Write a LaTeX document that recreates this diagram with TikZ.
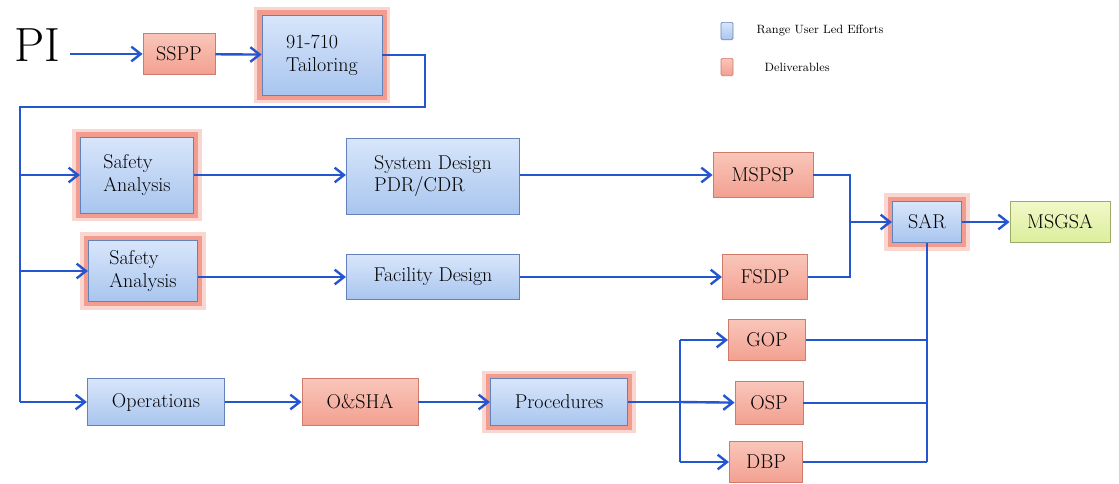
\documentclass[tikz,border=0pt]{standalone}
\usetikzlibrary{arrows.meta}

\definecolor{flowblue}{HTML}{2456D0}
\definecolor{boxblueT}{HTML}{D8E6FB}
\definecolor{boxblueB}{HTML}{A9C5EE}
\definecolor{edgeblue}{HTML}{6482BA}
\definecolor{boxredT}{HTML}{F9C6BA}
\definecolor{boxredB}{HTML}{F2A090}
\definecolor{edgered}{HTML}{CF7A6A}
\definecolor{glowred}{HTML}{F08B7B}
\definecolor{boxgreenT}{HTML}{F1F8C8}
\definecolor{boxgreenB}{HTML}{DCEE9C}
\definecolor{edgegreen}{HTML}{9AAB6A}

\tikzset{
  flow/.style={draw=flowblue, line width=1.8pt},
  arrow/.style={flow, -{Straight Barb[length=7pt,width=11pt,line width=1.8pt]}},
  base/.style={rectangle, inner sep=0pt, line width=0.6pt, align=center,
    font=\fontsize{15}{17}\selectfont},
  bluebox/.style={base, draw=edgeblue, top color=boxblueT, bottom color=boxblueB},
  redbox/.style={base, draw=edgered, top color=boxredT, bottom color=boxredB},
  greenbox/.style={base, draw=edgegreen, top color=boxgreenT, bottom color=boxgreenB},
  keybox/.style={bluebox,
    preaction={draw=glowred!35, line width=12pt, rounded corners=6pt},
    preaction={draw=glowred!85, line width=7pt, rounded corners=3pt}},
  legendbox/.style={rectangle, minimum width=9pt, minimum height=13pt, inner sep=0pt,
    rounded corners=1pt, line width=0.5pt},
  legendtext/.style={anchor=west, font=\fontsize{9}{10}\selectfont}
}

\begin{document}
\begin{tikzpicture}[x=0.75pt, y=-0.75pt]
    \useasboundingbox (0,0) rectangle (1119,483);

    % Top row
    \node[font=\fontsize{36}{38}\selectfont] (pi) at (37,45) {PI};
    \node[redbox, minimum width=54pt, minimum height=31pt] (sspp) at (179,54) {SSPP};
    \node[keybox, minimum width=90pt, minimum height=60pt, align=left] (tail) at (322,55) {91-710\\Tailoring};

    % Design branches
    \node[keybox, minimum width=85pt, minimum height=57pt, align=left] (sa1) at (137,175) {Safety\\Analysis};
    \node[bluebox, minimum width=130pt, minimum height=57pt, align=left] (sysd) at (433,176) {System Design\\PDR/CDR};
    \node[redbox, minimum width=75pt, minimum height=34pt] (mspsp) at (763,175) {MSPSP};

    \node[keybox, minimum width=82pt, minimum height=46pt, align=left] (sa2) at (143,271) {Safety\\Analysis};
    \node[bluebox, minimum width=130pt, minimum height=34pt] (facd) at (433,277) {Facility Design};
    \node[redbox, minimum width=64pt, minimum height=34pt] (fsdp) at (765,277) {FSDP};

    \node[keybox, minimum width=52pt, minimum height=31pt] (sar) at (927,222) {SAR};
    \node[greenbox, minimum width=75pt, minimum height=31pt] (msgsa) at (1060,222) {MSGSA};

    % Operations branch
    \node[bluebox, minimum width=103pt, minimum height=35pt] (ops) at (156,402) {Operations};
    \node[redbox, minimum width=87pt, minimum height=35pt] (osha) at (360,402) {O\&SHA};
    \node[keybox, minimum width=103pt, minimum height=35pt] (proc) at (559,402) {Procedures};

    \node[redbox, minimum width=58pt, minimum height=31pt] (gop) at (767,340) {GOP};
    \node[redbox, minimum width=51pt, minimum height=32pt] (osp) at (769,403) {OSP};
    \node[redbox, minimum width=55pt, minimum height=31pt] (dbp) at (766,462) {DBP};

    % Legend
    \node[legendbox, draw=edgeblue, top color=boxblueT, bottom color=boxblueB] (keyblue) at (727,31) {};
    \node[legendtext] at (752,31) {Range User Led Efforts};
    \node[legendbox, draw=edgered, top color=boxredT, bottom color=boxredB] (keyred) at (727,67) {};
    \node[legendtext] at (760,67) {Deliverables};

    \coordinate (pistart) at (70,54);
    \coordinate (turn) at (425,107);
    \coordinate (trunk) at (20,107);
    \coordinate (merge) at (850,222);
    \coordinate (split) at (680,402);

    % Connectors
    \draw[arrow] (pistart) -- (sspp);
    \draw[arrow] (sspp) -- (tail);
    \draw[flow] (tail.east) -| (turn) -- (trunk) -- (trunk |- ops);
    \draw[arrow] (trunk |- sa1) -- (sa1);
    \draw[arrow] (trunk |- sa2) -- (sa2);
    \draw[arrow] (trunk |- ops) -- (ops);

    \draw[arrow] (sa1) -- (sa1 -| sysd.west);
    \draw[arrow] (sysd.east |- mspsp) -- (mspsp);
    \draw[arrow] (sa2.east |- facd) -- (facd);
    \draw[arrow] (facd) -- (fsdp);
    \draw[flow] (mspsp.east) -| (merge) |- (fsdp.east);
    \draw[arrow] (merge) -- (sar.west |- merge);
    \draw[arrow] (sar) -- (msgsa);

    \draw[arrow] (ops) -- (osha);
    \draw[arrow] (osha) -- (proc);
    \draw[flow] (proc.east) -- (split);
    \draw[flow] (split |- gop) -- (split |- dbp);
    \draw[arrow] (split |- gop) -- (gop);
    \draw[arrow] (split) -- (osp);
    \draw[arrow] (split |- dbp) -- (dbp);

    \draw[flow] (sar.south) -- (sar.south |- dbp);
    \draw[flow] (gop) -- (sar.south |- gop);
    \draw[flow] (osp) -- (sar.south |- osp);
    \draw[flow] (dbp) -- (sar.south |- dbp);

\end{tikzpicture}
\end{document}
